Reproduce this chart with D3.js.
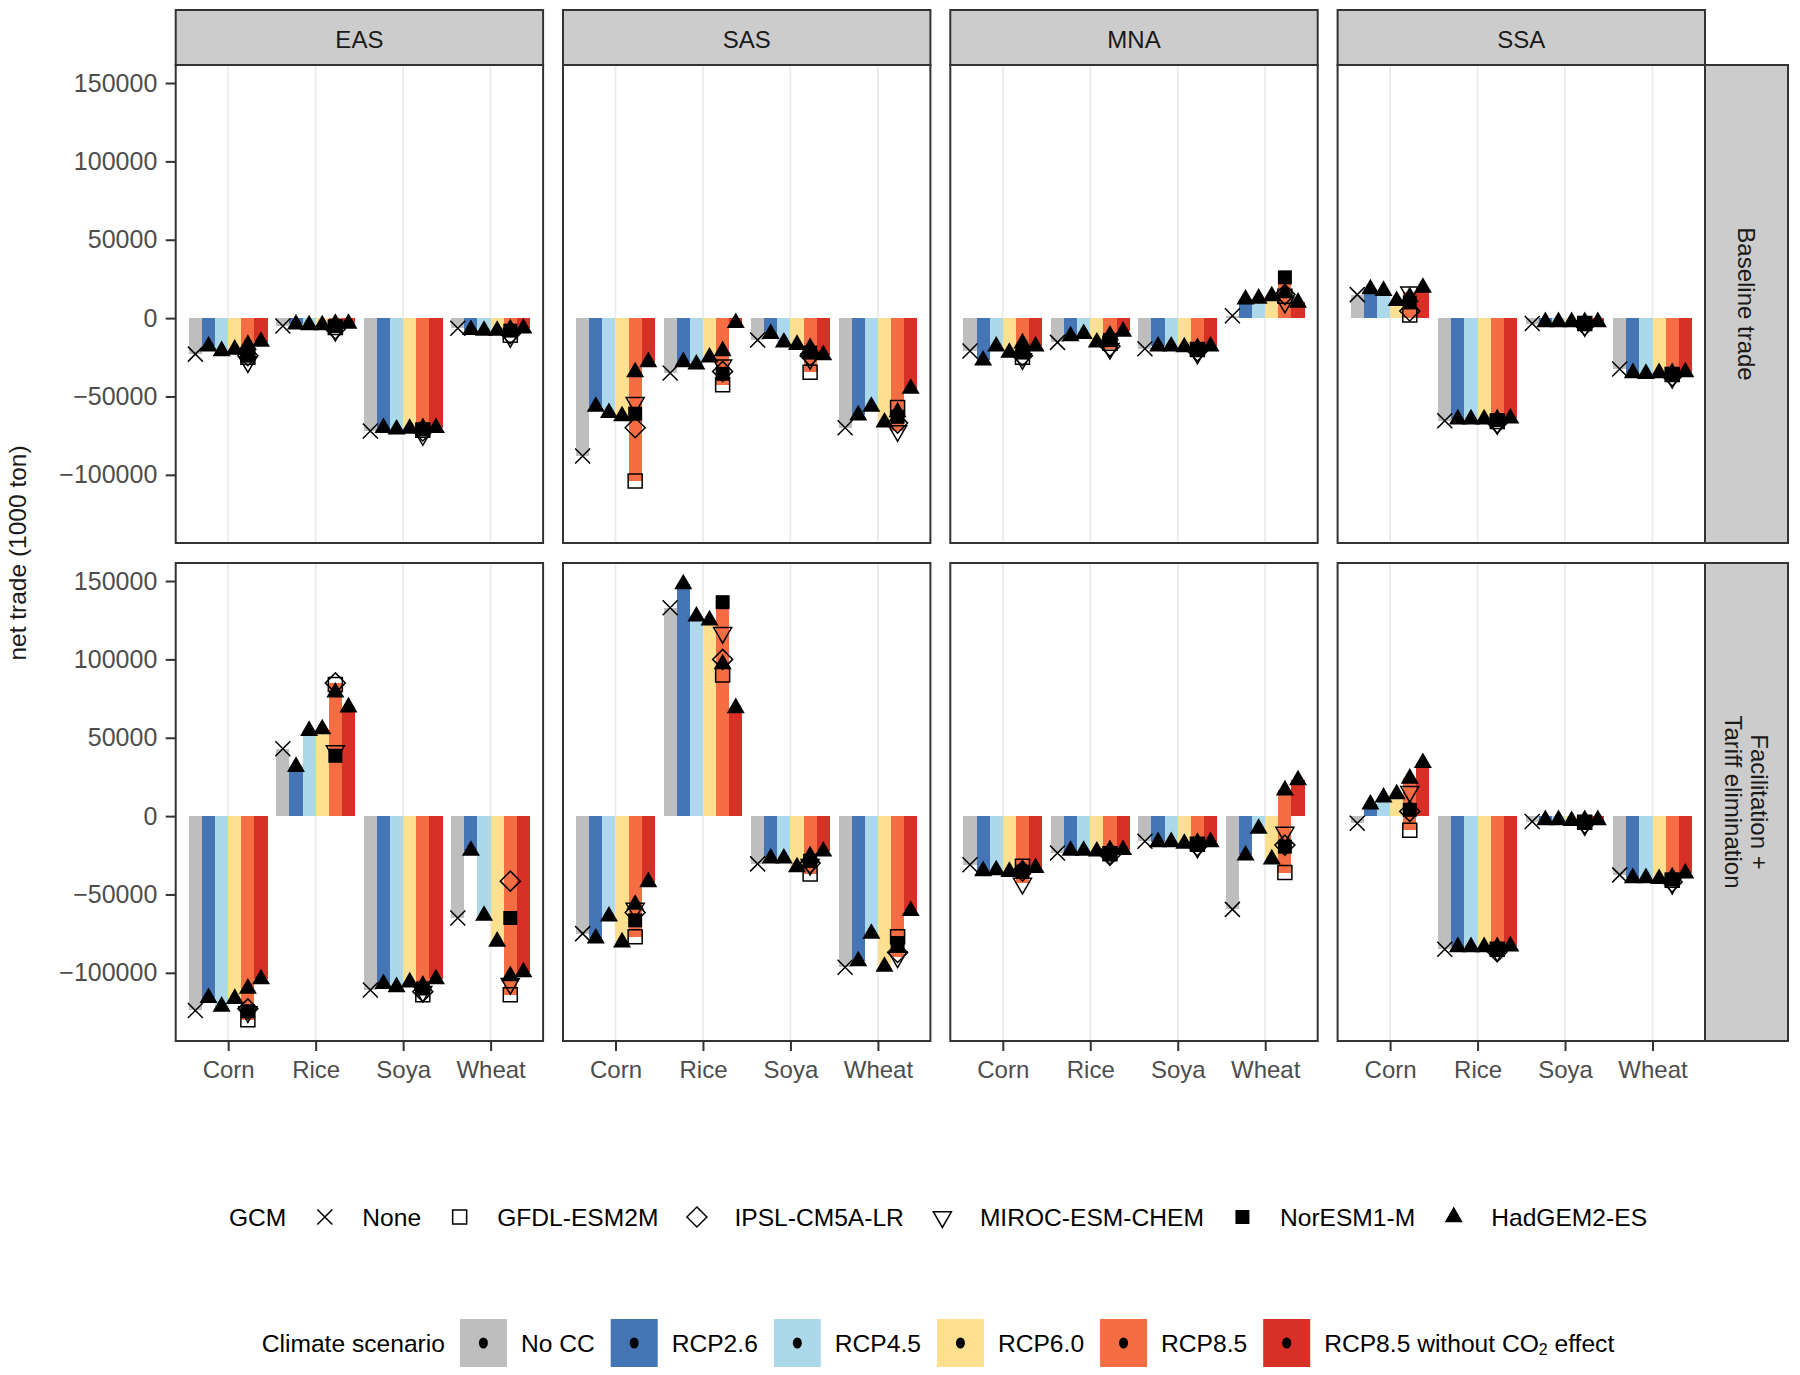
<!DOCTYPE html>
<html>
<head>
<meta charset="utf-8">
<script src="https://cdn.jsdelivr.net/npm/d3@7/dist/d3.min.js"></script>
<style>
  html,body{margin:0;padding:0;background:#fff;}
  svg{display:block;}
</style>
</head>
<body>
<svg id="chart" width="1800" height="1375"></svg>
<script>
// ---------------- data ----------------
const regions = ["EAS", "SAS", "MNA", "SSA"];
const crops = ["Corn", "Rice", "Soya", "Wheat"];
const policies = [["Baseline trade"], ["Facilitation +", "Tariff elimination"]];
const scenarios = ["No CC", "RCP2.6", "RCP4.5", "RCP6.0", "RCP8.5", "RCP8.5 without CO2 effect"];
const scenarioColors = ["#BEBEBE", "#4575B4", "#ABD9E9", "#FEE090", "#F46D43", "#D73027"];
const gcms = ["None", "GFDL-ESM2M", "IPSL-CM5A-LR", "MIROC-ESM-CHEM", "NorESM1-M", "HadGEM2-ES"];
const yTicks = [-100000, -50000, 0, 50000, 100000, 150000];

// each value row (one per crop) lists these runs: [scenario index, GCM index]
const runScenario = [0, 1, 2, 3, 4, 4, 4, 4, 4, 5];
const runGcm      = [0, 5, 5, 5, 1, 2, 3, 4, 5, 5];

// net trade (1000 ton) — Baseline trade
const baseline_EAS = [
  [-23000, -18000, -21000, -20000, -25000, -24000, -28000, -24000, -17000, -15000],
  [-5000, -4000, -4500, -4500, -6000, -7000, -8000, -5000, -3500, -3500],
  [-72000, -70000, -71000, -70500, -71500, -72000, -74500, -71000, -70000, -70000],
  [-6500, -7500, -8000, -8000, -11000, -10000, -12000, -8000, -7000, -6500]
];
const baseline_SAS = [
  [-88000, -56500, -60500, -62500, -104000, -70000, -54000, -61000, -34500, -28000],
  [-35000, -28000, -29500, -25000, -42500, -34000, -30000, -35500, -21000, -3000],
  [-14000, -10000, -15500, -17000, -34500, -24000, -26000, -22000, -19000, -23500],
  [-70000, -62000, -56500, -66500, -57000, -67000, -72000, -63000, -60000, -45000]
];
const baseline_MNA = [
  [-21000, -27000, -18000, -22000, -25000, -24000, -26000, -22000, -16000, -18000],
  [-15500, -11500, -10000, -15500, -16000, -18000, -19500, -14000, -11000, -8500],
  [-19500, -18000, -18000, -18500, -20000, -21000, -22500, -20000, -19000, -18000],
  [1500, 12000, 12500, 14000, 14000, 15000, 10000, 26000, 16000, 10000]
];
const baseline_SSA = [
  [15000, 18500, 17500, 11000, 2000, 4500, 16500, 10000, 13500, 19500],
  [-65500, -64500, -64500, -64500, -66000, -67000, -67500, -65000, -64500, -64000],
  [-3500, -2500, -2500, -2500, -3500, -4500, -5000, -3500, -2500, -2500],
  [-32500, -35000, -35500, -35000, -36000, -37000, -38000, -36000, -35000, -34500]
];
// net trade (1000 ton) — Facilitation + Tariff elimination
const facil_EAS = [
  [-124000, -116000, -121500, -116500, -130000, -123000, -125000, -124500, -110000, -104000],
  [43000, 31500, 54500, 55500, 84000, 85000, 41500, 38500, 79000, 69500],
  [-111000, -107000, -109000, -106000, -114000, -112000, -112000, -110000, -108000, -104000],
  [-65000, -22000, -63500, -80000, -114000, -41500, -107000, -65000, -102000, -99500]
];
const facil_SAS = [
  [-75000, -78000, -64000, -80500, -77000, -61500, -59000, -66500, -56500, -42000],
  [133000, 148000, 127500, 125000, 90000, 100000, 117000, 136500, 97000, 69000],
  [-30500, -27000, -27000, -32500, -37000, -30000, -31000, -28500, -25500, -22500],
  [-96500, -92500, -75000, -96000, -77000, -87000, -90000, -81000, -84000, -60500]
];
const facil_MNA = [
  [-31000, -35000, -34500, -35500, -32000, -35000, -43000, -35500, -34000, -33000],
  [-23500, -22000, -22000, -22500, -24000, -25000, -24500, -23500, -21500, -21500],
  [-16000, -16500, -16500, -17500, -18000, -19000, -20000, -18000, -17000, -16500],
  [-59500, -25000, -8000, -27500, -36000, -18500, -10500, -19500, 16500, 23000]
];
const facil_SSA = [
  [-4500, 7500, 12000, 14000, -9000, 3000, 15500, 4000, 24000, 34000],
  [-85000, -83500, -83500, -83500, -85000, -86500, -86000, -85000, -83500, -83000],
  [-3500, -2500, -2500, -3000, -4000, -4500, -5500, -4000, -2500, -2500],
  [-37500, -39500, -39500, -40000, -41000, -42000, -43000, -40500, -39000, -36500]
];
const rowsData = [
  [baseline_EAS, baseline_SAS, baseline_MNA, baseline_SSA],
  [facil_EAS, facil_SAS, facil_MNA, facil_SSA]
];

// ---------------- layout ----------------
const FONT = '"Liberation Sans", Arial, Helvetica, sans-serif';
const L = { left: 175.7, pw: 367.4, gapX: 19.9, top: 65, ph: 478, gapY: 20, stripTop: 10, rstripW: 83 };
const svg = d3.select("#chart").style("font-family", FONT);
svg.append("rect").attr("width", 1800).attr("height", 1375).attr("fill", "#fff");

const x = d3.scalePoint().domain(crops).range([0, L.pw]).padding(0.6);
const bw = x.step() * 0.9 / scenarios.length;
const y = d3.scaleLinear().domain([-143500, 161500]).range([L.ph, 0]);
const dodge = s => (s - (scenarios.length - 1) / 2) * bw;

function shapePath(k) {
  switch (k) {
    case 0: return "M-7.5,-7.5L7.5,7.5M-7.5,7.5L7.5,-7.5";
    case 1: return "M-7,-7H7V7H-7Z";
    case 2: return "M0,-10L10,0L0,10L-10,0Z";
    case 3: return "M-9,-5.2L9,-5.2L0,10.4Z";
    case 4: return "M-7,-7H7V7H-7Z";
    default: return "M-9,5.2L9,5.2L0,-10.4Z";
  }
}
const filledShape = k => k >= 4;
function stylePt(sel) {
  sel.attr("d", d => shapePath(d.gcm))
    .attr("fill", d => filledShape(d.gcm) ? "#000" : "none")
    .attr("stroke", d => filledShape(d.gcm) ? "none" : "#000")
    .attr("stroke-width", 1.5);
}

rowsData.forEach((row, r) => {
  const py = L.top + r * (L.ph + L.gapY);
  row.forEach((mat, c) => {
    const px = L.left + c * (L.pw + L.gapX);
    const g = svg.append("g").attr("transform", `translate(${px},${py})`);
    g.selectAll("line.grid").data(crops).join("line")
      .attr("x1", d => x(d)).attr("x2", d => x(d))
      .attr("y1", 0).attr("y2", L.ph)
      .attr("stroke", "#EBEBEB").attr("stroke-width", 1.8);

    const recs = [];
    crops.forEach((crop, i) => mat[i].forEach((v, k) =>
      recs.push({ crop, s: runScenario[k], gcm: runGcm[k], v })));

    g.selectAll("rect.bar").data(recs).join("rect")
      .attr("x", d => x(d.crop) + dodge(d.s) - bw / 2)
      .attr("width", bw)
      .attr("y", d => Math.min(y(d.v), y(0)))
      .attr("height", d => Math.abs(y(d.v) - y(0)))
      .attr("fill", d => scenarioColors[d.s])
      .attr("shape-rendering", "crispEdges");

    const pts = recs.slice().sort((a, b) => a.gcm - b.gcm);
    g.selectAll("path.pt").data(pts).join("path")
      .attr("transform", d => `translate(${x(d.crop) + dodge(d.s)},${y(d.v)})`)
      .call(stylePt);

    g.append("rect").attr("width", L.pw).attr("height", L.ph)
      .attr("fill", "none").attr("stroke", "#333").attr("stroke-width", 2);

    // top strips
    if (r === 0) {
      const s = svg.append("g").attr("transform", `translate(${px},${L.stripTop})`);
      s.append("rect").attr("width", L.pw).attr("height", L.top - L.stripTop)
        .attr("fill", "#CCCCCC").attr("stroke", "#333").attr("stroke-width", 2);
      s.append("text").attr("x", L.pw / 2).attr("y", (L.top - L.stripTop) / 2 + 2)
        .attr("text-anchor", "middle").attr("dominant-baseline", "central")
        .attr("font-size", 24).attr("fill", "#1A1A1A").text(regions[c]);
    }
    // bottom axis
    if (r === rowsData.length - 1) {
      const ax = svg.append("g").attr("transform", `translate(${px},${py + L.ph})`)
        .call(d3.axisBottom(x).tickSize(10).tickPadding(10));
      ax.select(".domain").remove();
      ax.selectAll("line").attr("stroke", "#333").attr("stroke-width", 2);
      ax.selectAll("text").attr("font-size", 24).attr("fill", "#4D4D4D").attr("font-family", FONT);
    }
  });

  // left axis
  const ay = svg.append("g").attr("transform", `translate(${L.left},${py})`)
    .call(d3.axisLeft(y).tickValues(yTicks).tickSize(10).tickPadding(8.4).tickFormat(d3.format("d")));
  ay.select(".domain").remove();
  ay.selectAll("line").attr("stroke", "#333").attr("stroke-width", 2);
  ay.selectAll("text").attr("font-size", 25).attr("fill", "#4D4D4D").attr("font-family", FONT);

  // right strip
  const rx = L.left + 4 * L.pw + 3 * L.gapX;
  const rs = svg.append("g").attr("transform", `translate(${rx},${py})`);
  rs.append("rect").attr("width", L.rstripW).attr("height", L.ph)
    .attr("fill", "#CCCCCC").attr("stroke", "#333").attr("stroke-width", 2);
  const lines = policies[r];
  const tt = rs.append("text")
    .attr("transform", `translate(${L.rstripW / 2},${L.ph / 2}) rotate(90)`)
    .attr("text-anchor", "middle").attr("font-size", 24).attr("fill", "#1A1A1A");
  lines.forEach((ln, i) => {
    tt.append("tspan").attr("x", 0)
      .attr("y", (i - (lines.length - 1) / 2) * 26)
      .attr("dy", "0.35em").text(ln);
  });
});

// y axis title
svg.append("text")
  .attr("transform", `translate(17,${L.top + L.ph + L.gapY / 2}) rotate(-90)`)
  .attr("text-anchor", "middle").attr("dominant-baseline", "central")
  .attr("font-size", 24.5).attr("fill", "#1A1A1A").text("net trade (1000 ton)");

// ---------------- legends ----------------
const legCenterX = 938;
const LF = 24.6;
// GCM legend (shapes)
{
  const ly = 1217;
  const g = svg.append("g");
  const title = g.append("text").attr("y", ly).attr("dominant-baseline", "central")
    .attr("font-size", LF).attr("fill", "#000").text("GCM");
  let cx = title.node().getComputedTextLength();
  const items = [];
  gcms.forEach((name, k) => {
    const kx = cx + 38.5;
    const t = g.append("text").attr("x", kx + 37.5).attr("y", ly)
      .attr("dominant-baseline", "central").attr("font-size", LF).attr("fill", "#000").text(name);
    items.push({ gcm: k, kx });
    cx = kx + 37.5 + t.node().getComputedTextLength();
  });
  g.selectAll("path.key").data(items).join("path")
    .attr("transform", d => `translate(${d.kx},${ly})`).call(stylePt);
  g.attr("transform", `translate(${legCenterX - cx / 2},0)`);
}
// Climate scenario legend (fills)
{
  const ly = 1343, kw = 47, kh = 48;
  const g = svg.append("g");
  const title = g.append("text").attr("y", ly).attr("dominant-baseline", "central")
    .attr("font-size", LF).attr("fill", "#000").text("Climate scenario");
  let cx = title.node().getComputedTextLength() + 15;
  scenarios.forEach((name, s) => {
    g.append("rect").attr("x", cx).attr("y", ly - kh / 2).attr("width", kw).attr("height", kh)
      .attr("fill", scenarioColors[s]);
    g.append("ellipse").attr("cx", cx + kw / 2).attr("cy", ly).attr("rx", 4.5).attr("ry", 5.5).attr("fill", "#000");
    const t = g.append("text").attr("x", cx + kw + 14).attr("y", ly)
      .attr("dominant-baseline", "central").attr("font-size", LF).attr("fill", "#000");
    if (name.includes("CO2")) {
      const parts = name.split("CO2");
      t.append("tspan").text(parts[0] + "CO");
      t.append("tspan").attr("font-size", 16).attr("dy", 6).text("2");
      t.append("tspan").attr("dy", -6).text(parts[1]);
    } else t.text(name);
    cx = cx + kw + 14 + t.node().getComputedTextLength() + 16;
  });
  g.attr("transform", `translate(${legCenterX - (cx - 16) / 2},0)`);
}
</script>
</body>
</html>
